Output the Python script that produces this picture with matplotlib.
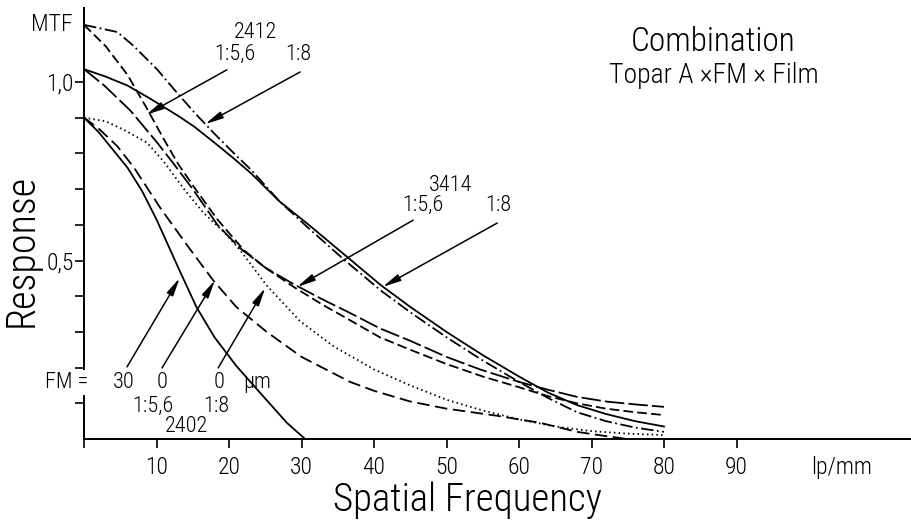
import matplotlib
matplotlib.use("Agg")
import matplotlib.pyplot as plt
from matplotlib import font_manager
from matplotlib.ticker import FixedLocator, FixedFormatter

_names = {f.name for f in font_manager.fontManager.ttflist}
NARROW = next((n for n in ['Roboto Condensed', 'Liberation Sans Narrow', 'Open Sans Condensed']
               if n in _names), 'DejaVu Sans')
plt.rcParams['font.family'] = [NARROW, 'DejaVu Sans']
plt.rcParams['font.weight'] = 'light'
plt.rcParams['axes.labelweight'] = 'light'
plt.rcParams['lines.scale_dashes'] = False

# ---------------- data ----------------
# Film 2412, aperture 1:5,6 (dashed)
freq_2412_f56 = [0, 3, 6, 8.7, 11, 13, 15.2, 18.4, 22, 25, 29, 33, 36.5, 40.8, 45, 50, 55, 60, 64, 68, 72, 76, 80]
mtf_2412_f56 = [1.16, 1.10, 1.02, 0.925, 0.84, 0.77, 0.705, 0.615, 0.53, 0.48, 0.425, 0.375, 0.335, 0.285,
                0.25, 0.21, 0.175, 0.145, 0.12, 0.10, 0.085, 0.075, 0.067]
# Film 2412, aperture 1:8 (dash-dot)
freq_2412_f8 = [0, 4.6, 6.9, 10.1, 12.4, 15.2, 18, 20.7, 23, 27, 31, 36, 41, 45, 50, 55, 60, 64, 68, 72, 76, 80]
mtf_2412_f8 = [1.16, 1.14, 1.10, 1.035, 0.98, 0.915, 0.855, 0.80, 0.755, 0.665, 0.59, 0.50, 0.415, 0.355,
               0.285, 0.22, 0.16, 0.115, 0.075, 0.05, 0.032, 0.02]
# Film 3414, aperture 1:5,6 (long dash)
freq_3414_f56 = [0, 2.8, 6.4, 10.1, 12.4, 15, 18.4, 21.5, 25, 28.8, 33, 36.5, 40.8, 45, 50, 54.6, 60, 64, 68, 72, 76, 80]
mtf_3414_f56 = [1.036, 0.99, 0.92, 0.83, 0.77, 0.70, 0.60, 0.535, 0.48, 0.435, 0.39, 0.355, 0.31, 0.275,
                0.23, 0.195, 0.16, 0.138, 0.118, 0.105, 0.097, 0.09]
# Film 3414, aperture 1:8 (solid)
freq_3414_f8 = [0, 3, 6, 9, 11, 13, 15.2, 18, 20.7, 23, 27, 31, 36, 41, 45, 50, 55, 60, 64, 68, 72, 76, 80]
mtf_3414_f8 = [1.036, 1.015, 0.99, 0.955, 0.93, 0.905, 0.875, 0.83, 0.785, 0.745, 0.665, 0.60, 0.515, 0.43,
               0.37, 0.30, 0.235, 0.175, 0.13, 0.095, 0.07, 0.05, 0.035]
# Film 2402, FM = 30 um (solid)
freq_2402_fm30 = [0, 2, 4, 6, 8, 10, 11, 13, 15.5, 18, 21, 24.7, 28, 30.5]
mtf_2402_fm30 = [0.90, 0.86, 0.81, 0.76, 0.695, 0.615, 0.57, 0.48, 0.37, 0.285, 0.205, 0.12, 0.045, 0.0]
# Film 2402, FM = 0, aperture 1:5,6 (long dash)
freq_2402_f56 = [0, 2, 4.6, 6.9, 10.6, 14.5, 17.8, 21, 25.2, 30, 36.7, 40, 45, 50, 57, 63, 68, 72, 75, 80]
mtf_2402_f56 = [0.90, 0.87, 0.82, 0.76, 0.645, 0.535, 0.445, 0.37, 0.30, 0.23, 0.16, 0.135, 0.105, 0.085,
                0.065, 0.045, 0.02, 0.008, 0.0, 0.0]
# Film 2402, FM = 0, aperture 1:8 (dotted)
freq_2402_f8 = [0, 3, 5.5, 8.7, 11, 13.8, 16.5, 19.3, 21.5, 25.2, 29.8, 34.4, 40, 45, 50, 55, 60, 65, 70, 75, 80]
mtf_2402_f8 = [0.90, 0.89, 0.866, 0.83, 0.777, 0.70, 0.633, 0.58, 0.53, 0.43, 0.33, 0.26, 0.195, 0.15, 0.11,
               0.08, 0.055, 0.035, 0.022, 0.015, 0.011]

x_ticks = [0, 10, 20, 30, 40, 50, 60, 70, 80, 90]
x_tick_labels = ['', '10', '20', '30', '40', '50', '60', '70', '80', '90']
y_ticks = [0.1, 0.2, 0.3, 0.4, 0.5, 0.6, 0.7, 0.8, 0.9, 1.0]
y_tick_labels = ['', '', '', '', '0,5', '', '', '', '', '1,0']

# ---------------- figure ----------------
W, H = 912, 524
fig = plt.figure(figsize=(W / 100, H / 100), dpi=100)
ax = fig.add_axes([84 / W, (H - 439) / H, 1 - 84 / W, (439 - 8) / H])
ax.set_xlim(0, (W - 84) / 72.5 * 10)
ax.set_ylim(0, (439 - 8) / 357)

lw = 1.3
k = 'black'
ax.plot(freq_2412_f8, mtf_2412_f8, color=k, lw=lw, ls=(0, (9, 2.5, 1.3, 2.5)))
ax.plot(freq_3414_f8, mtf_3414_f8, color=k, lw=lw, ls='-')
ax.plot(freq_2412_f56, mtf_2412_f56, color=k, lw=lw, ls=(0, (7, 3)))
ax.plot(freq_3414_f56, mtf_3414_f56, color=k, lw=lw, ls=(0, (14, 3)))
ax.plot(freq_2402_fm30, mtf_2402_fm30, color=k, lw=lw, ls='-')
ax.plot(freq_2402_f56, mtf_2402_f56, color=k, lw=lw, ls=(0, (9, 4)))
ax.plot(freq_2402_f8, mtf_2402_f8, color=k, lw=lw, ls=(0, (1.1, 2.3)))

# axes styling
for s in ['top', 'right']:
    ax.spines[s].set_visible(False)
for s in ['left', 'bottom']:
    ax.spines[s].set_linewidth(1.4)
ax.xaxis.set_major_locator(FixedLocator(x_ticks))
ax.xaxis.set_major_formatter(FixedFormatter(x_tick_labels))
ax.yaxis.set_major_locator(FixedLocator(y_ticks))
ax.yaxis.set_major_formatter(FixedFormatter(y_tick_labels))
ax.tick_params(axis='x', which='major', direction='out', length=6.5, width=1.2, labelsize=17, pad=6)
ax.tick_params(axis='y', which='major', direction='out', length=6.5, width=1.2, labelsize=17, pad=1)
ax.set_xticks([104.5], labels=['lp/mm'], minor=True)
ax.set_yticks([1.168], labels=['MTF'], minor=True)
ax.tick_params(axis='x', which='minor', length=0, labelsize=17, pad=12)
ax.tick_params(axis='y', which='minor', length=0, labelsize=17, pad=8)

ax.set_xlabel('Spatial Frequency', fontsize=28, fontweight='light')
ax.xaxis.set_label_coords((468 - 84) / (W - 84), -(500 - 439) / (439 - 8))
ax.xaxis.label.set_va('center')
ax.set_ylabel('Response', fontsize=29, fontweight='light')
ax.yaxis.set_label_coords(-(84 - 21) / (W - 84), (439 - 250) / (439 - 8))
ax.yaxis.label.set_va('center')

# title block
ax.text(86.8, 1.112, 'Combination', fontsize=24, ha='center', va='center')
ax.text(86.9, 1.017, 'Topar A \u00d7FM \u00d7 Film', fontsize=20, ha='center', va='center')

# curve labels
fs = 16
ax.text(23.6, 1.140, '2412', fontsize=fs, ha='center', va='center')
ax.text(20.8, 1.076, '1:5,6', fontsize=fs, ha='center', va='center')
ax.text(29.5, 1.076, '1:8', fontsize=fs, ha='center', va='center')
ax.text(50.5, 0.709, '3414', fontsize=fs, ha='center', va='center')
ax.text(46.8, 0.655, '1:5,6', fontsize=fs, ha='center', va='center')
ax.text(57.1, 0.655, '1:8', fontsize=fs, ha='center', va='center')
ax.text(-2.4, 0.157, 'FM =', fontsize=fs, ha='center', va='center', zorder=5,
        bbox=dict(facecolor='white', edgecolor='none', pad=1.5))
ax.text(5.5, 0.157, '30', fontsize=fs, ha='center', va='center')
ax.text(10.8, 0.157, '0', fontsize=fs, ha='center', va='center')
ax.text(18.6, 0.157, '0', fontsize=fs, ha='center', va='center')
ax.text(23.9, 0.157, '\u00b5m', fontsize=fs, ha='center', va='center')
ax.text(9.5, 0.09, '1:5,6', fontsize=fs, ha='center', va='center')
ax.text(18.2, 0.09, '1:8', fontsize=fs, ha='center', va='center')
ax.text(14.2, 0.034, '2402', fontsize=fs, ha='center', va='center')

arrows = [((19.7, 1.034), (8.55, 0.908)),
          ((29.8, 1.028), (16.7, 0.882)),
          ((45.4, 0.613), (29.4, 0.426)),
          ((57.0, 0.605), (41.2, 0.426)),
          ((5.93, 0.202), (13.2, 0.451)),
          ((10.76, 0.199), (18.07, 0.445)),
          ((18.5, 0.199), (25.0, 0.423))]
for tail, head in arrows:
    ax.annotate('', xy=head, xytext=tail,
                arrowprops=dict(arrowstyle='-|>,head_length=0.9,head_width=0.18',
                                color=k, lw=1.1, shrinkA=0, shrinkB=0, mutation_scale=12))

fig.savefig('out.png', dpi=100)
